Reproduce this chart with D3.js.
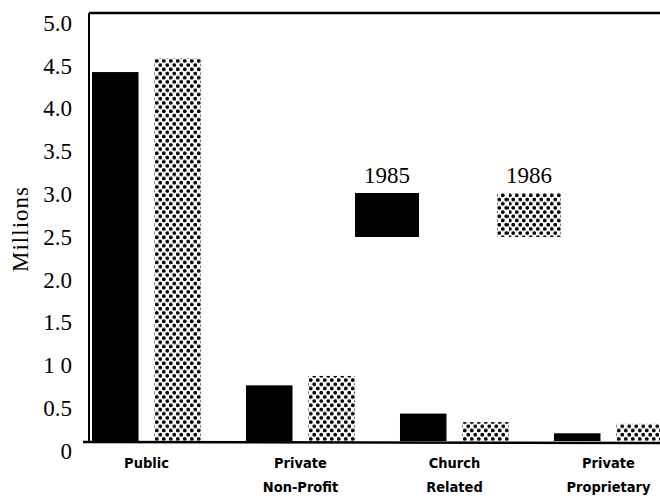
<!DOCTYPE html>
<html>
<head>
<meta charset="utf-8">
<script src="https://cdn.jsdelivr.net/npm/d3@7"></script>
<style>
  body { margin: 0; background: #fff; }
  svg { display: block; }
</style>
</head>
<body>
<div id="chart"></div>
<script>
// data
const categories = [['Public'], ['Private', 'Non-Profit'], ['Church', 'Related'], ['Private', 'Proprietary']]
const years = ['1985', '1986']
const values1985 = [4.31, 0.65, 0.32, 0.09]
const values1986 = [4.47, 0.76, 0.22, 0.20]
const tickValues = [0, 0.5, 1, 1.5, 2, 2.5, 3, 3.5, 4, 4.5, 5]
const tickLabels = ['0', '0.5', '1 0', '1.5', '2.0', '2.5', '3.0', '3.5', '4.0', '4.5', '5.0']

var width = 660
var height = 499
var margin = { top: 13, right: 0, bottom: 58, left: 89 }
var serif = 'Liberation Serif, Times New Roman, serif'

var svg = d3.select('#chart').append('svg')
  .attr('width', width)
  .attr('height', height)

// dotted fill for the 1986 bars
var pat = svg.append('defs').append('pattern')
  .attr('id', 'dots')
  .attr('patternUnits', 'userSpaceOnUse')
  .attr('width', 7)
  .attr('height', 8.4)
pat.append('circle').attr('cx', 1.75).attr('cy', 2.1).attr('r', 1.95).attr('fill', '#000')
pat.append('circle').attr('cx', 5.25).attr('cy', 6.3).attr('r', 1.95).attr('fill', '#000')

var fills = { '1985': '#000', '1986': 'url(#dots)' }

var y = d3.scaleLinear()
  .domain([0, 5])
  .range([height - margin.bottom, margin.top])

var keys = categories.map(d => d.join(' '))

var x0 = d3.scaleBand()
  .domain(keys)
  .range([92, 663])
  .paddingInner(0.292)
  .paddingOuter(0)

var x1 = d3.scaleBand()
  .domain(years)
  .range([0, x0.bandwidth()])
  .paddingInner(0.256)

var data = keys.map((k, i) => ({ key: k, lines: categories[i], values: [
  { year: '1985', value: values1985[i] },
  { year: '1986', value: values1986[i] }
] }))

// bars
svg.append('g')
  .selectAll('g')
  .data(data)
  .enter()
  .append('g')
  .attr('transform', d => `translate(${x0(d.key)},0)`)
  .selectAll('rect')
  .data(d => d.values)
  .enter()
  .append('rect')
  .attr('x', d => x1(d.year))
  .attr('y', d => y(d.value))
  .attr('width', x1.bandwidth())
  .attr('height', d => y(0) - y(d.value))
  .attr('fill', d => fills[d.year])

// frame: top, left and base lines
svg.append('line')
  .attr('x1', margin.left).attr('x2', width)
  .attr('y1', y(5)).attr('y2', y(5))
  .attr('stroke', '#000').attr('stroke-width', 2.5)
svg.append('line')
  .attr('x1', margin.left).attr('x2', margin.left)
  .attr('y1', y(5)).attr('y2', y(0))
  .attr('stroke', '#000').attr('stroke-width', 2)
svg.append('line')
  .attr('x1', 83).attr('x2', width)
  .attr('y1', y(0) + 1).attr('y2', y(0) + 2)
  .attr('stroke', '#000').attr('stroke-width', 2.5)

// y axis labels (sit a little below their values in the print)
var yAxis = d3.axisLeft(y)
  .tickValues(tickValues)
  .tickFormat((d, i) => tickLabels[i])
  .tickSize(0)
  .tickPadding(0)

svg.append('g')
  .attr('transform', 'translate(72,10)')
  .call(yAxis)
  .call(g => g.select('.domain').remove())
  .call(g => g.selectAll('text')
    .attr('font-family', serif)
    .attr('font-size', 23)
    .attr('fill', '#000'))

svg.append('text')
  .attr('transform', 'translate(28,229) rotate(-90)')
  .attr('text-anchor', 'middle')
  .attr('font-family', serif)
  .attr('font-size', 23)
  .attr('letter-spacing', 1)
  .text('Millions')

// category labels
var catLabels = svg.append('g')
  .attr('font-family', 'Liberation Sans Narrow, DejaVu Sans Condensed, sans-serif')
  .attr('font-size', 14.5)
  .attr('font-weight', 'bold')
  .attr('text-anchor', 'middle')
  .selectAll('text')
  .data(data)
  .enter()
  .append('text')
  .attr('x', d => x0(d.key) + x0.bandwidth() / 2)
  .attr('y', 468)

catLabels.selectAll('tspan')
  .data(d => d.lines)
  .enter()
  .append('tspan')
  .attr('x', function () { return d3.select(this.parentNode).attr('x') })
  .attr('dy', (d, i) => i === 0 ? 0 : 24)
  .text(d => d)

// legend
var legendX = d3.scalePoint().domain(years).range([387, 529])
var legend = svg.append('g')
  .selectAll('g')
  .data(years)
  .enter()
  .append('g')
  .attr('transform', d => `translate(${legendX(d)},0)`)

legend.append('text')
  .attr('y', 183)
  .attr('text-anchor', 'middle')
  .attr('font-family', serif)
  .attr('font-size', 23)
  .text(d => d)

legend.append('rect')
  .attr('x', -32)
  .attr('y', 193)
  .attr('width', 64)
  .attr('height', 44)
  .attr('fill', d => fills[d])
</script>
</body>
</html>
